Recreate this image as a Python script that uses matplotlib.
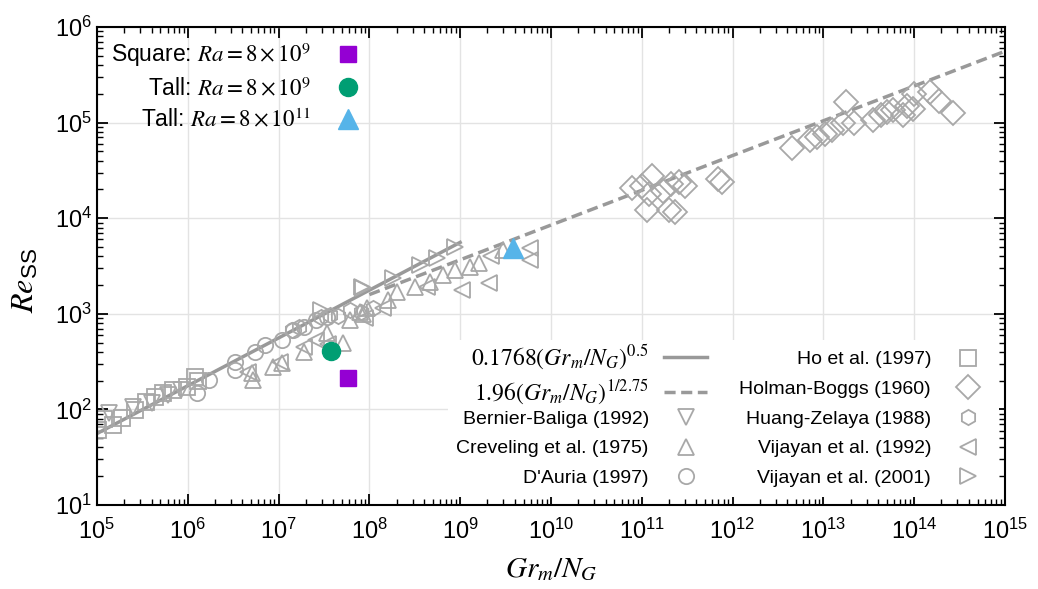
import numpy as np
import matplotlib
matplotlib.use("Agg")
import matplotlib.pyplot as plt
from matplotlib.patches import Rectangle
from matplotlib.ticker import LogLocator, FuncFormatter, NullFormatter

plt.rcParams['font.family'] = ['Liberation Sans', 'DejaVu Sans']
plt.rcParams['mathtext.fontset'] = 'custom'
plt.rcParams['mathtext.rm'] = 'STIXGeneral'
plt.rcParams['mathtext.it'] = 'STIXGeneral:italic'
plt.rcParams['mathtext.sf'] = 'Liberation Sans'
plt.rcParams['mathtext.fallback'] = 'stix'

# --- literature data ---
ho_x = [1.02e5, 1.2e5, 1.5e5, 1.9e5, 2.6e5, 3.5e5, 4.4e5, 5.4e5, 6.8e5, 9.8e5, 1.2e6, 1.3e6]
ho_y = [61, 80, 69, 81, 99, 120, 135, 148, 158, 170, 219, 200]

bernier_x = [1.35e5, 2.5e5, 4.0e5, 6.0e5, 8.5e5]
bernier_y = [92, 105, 118, 140, 160]

creveling_x = [5.2e6, 5.1e6, 8.7e6, 1.1e7, 1.9e7, 3.4e7, 5.1e7, 6.2e7, 7.9e7, 9.5e7,
               8.5e7, 1.6e8, 2.0e8, 3.2e8, 4.7e8, 6.5e8, 8.7e8, 1.3e9, 1.6e9, 3.0e9]
creveling_y = [204, 240, 276, 309, 398, 630, 500, 870, 1050, 1150,
               1000, 1380, 1700, 1900, 2140, 2570, 2880, 3100, 3400, 4680]

dauria_x = [1.25e6, 1.7e6, 3.3e6, 3.3e6, 5.5e6, 7.1e6, 1.1e7, 1.45e7, 1.9e7, 2.6e7, 3.4e7]
dauria_y = [150, 204, 313, 257, 398, 468, 537, 676, 724, 871, 933]

holman_x = [7.9e10, 1.0e11, 1.3e11, 1.2e11, 1.15e11, 2.0e11, 2.3e11, 2.1e11, 2.6e11,
            3.0e11, 1.7e11, 6.9e11, 7.6e11, 4.5e12, 7.1e12, 8.5e12, 1.05e13, 1.26e13,
            1.66e13, 1.8e13, 2.2e13, 3.5e13, 4.3e13, 5.0e13, 5.8e13, 7.5e13, 8.3e13,
            9.8e13, 1.0e14, 1.5e14, 1.9e14, 2.7e14]
holman_y = [2.07e4, 2.2e4, 2.8e4, 1.8e4, 1.23e4, 1.23e4, 1.15e4, 2.3e4, 2.4e4,
            2.2e4, 1.95e4, 2.6e4, 2.4e4, 5.4e4, 6.6e4, 7.0e4, 7.7e4, 8.3e4,
            1.0e5, 1.65e5, 1.0e5, 1.07e5, 1.2e5, 1.3e5, 1.35e5, 1.2e5, 1.5e5,
            1.4e5, 2.0e5, 2.1e5, 1.7e5, 1.26e5]

huang_x = [1.4e7, 1.7e7, 2.9e7, 3.7e7, 4.5e7, 6.2e7, 8.0e7, 1.1e8]
huang_y = [680, 720, 930, 980, 950, 1100, 1050, 1150]

vij92_x = [4.6e6, 1.05e7, 1.9e7, 2.6e7, 3.5e7, 9.0e7, 1.4e8, 4.3e8, 1.05e9, 2.1e9, 2.2e9, 5.9e9, 5.9e9]
vij92_y = [245, 316, 447, 537, 480, 900, 1150, 1900, 1780, 2090, 4000, 3630, 4900]

vij01_x = [2.9e7, 8.5e7, 8.3e7, 1.8e8, 3.6e8, 5.5e8, 8.7e8]
vij01_y = [1100, 1860, 1900, 2400, 3230, 3800, 5000]

# --- present simulations ---
sq_x, sq_y = [5.8e7], [212]
tall9_x, tall9_y = [3.8e7], [410]
tall11_x, tall11_y = [3.8e9], [4900]

# --- correlations ---
lam_x = np.logspace(5, 9, 100)
lam_y = 0.1768 * lam_x ** 0.5
turb_x = np.logspace(8, 15, 100)
turb_y = 1.96 * turb_x ** (1 / 2.75)

fig = plt.figure(figsize=(10.38, 5.89), dpi=100)
ax = fig.add_axes([0.0934, 0.1426, 0.8747, 0.8114])

gray = '#a8a8a8'
mk = dict(ls='none', mfc='none', mec=gray, mew=1.3, ms=11)

l1, = ax.plot(lam_x, lam_y, color='#999999', lw=2.5)
l2, = ax.plot(turb_x, turb_y, color='#999999', lw=2.5, ls=(0, (3.2, 1.6)))
h_bb, = ax.plot(bernier_x, bernier_y, marker='v', **mk)
h_cr, = ax.plot(creveling_x, creveling_y, marker='^', **mk)
h_da, = ax.plot(dauria_x, dauria_y, marker='o', **mk)
h_ho, = ax.plot(ho_x, ho_y, marker='s', **mk)
h_hb, = ax.plot(holman_x, holman_y, marker='D', **dict(mk, ms=12))
h_hz, = ax.plot(huang_x, huang_y, marker='h', **mk)
h_v92, = ax.plot(vij92_x, vij92_y, marker='<', **mk)
h_v01, = ax.plot(vij01_x, vij01_y, marker='>', **mk)

s1, = ax.plot(sq_x, sq_y, 's', color='#9400D3', ms=11, zorder=5)
s2, = ax.plot(tall9_x, tall9_y, 'o', color='#009E73', ms=13, zorder=5)
s3, = ax.plot(tall11_x, tall11_y, '^', color='#56B4E9', ms=14, zorder=5)

ax.set_xscale('log')
ax.set_yscale('log')
ax.set_xlim(1e5, 1e15)
ax.set_ylim(1e1, 1e6)

ax.xaxis.set_major_locator(LogLocator(base=10, numticks=20))
ax.xaxis.set_minor_locator(LogLocator(base=10, subs=np.arange(2, 10), numticks=20))
ax.yaxis.set_major_locator(LogLocator(base=10, numticks=20))
ax.yaxis.set_minor_locator(LogLocator(base=10, subs=np.arange(2, 10), numticks=20))
fmt = FuncFormatter(lambda v, p: r'$\mathsf{10^{%d}}$' % round(np.log10(v)))
ax.xaxis.set_major_formatter(fmt)
ax.yaxis.set_major_formatter(fmt)
ax.xaxis.set_minor_formatter(NullFormatter())
ax.yaxis.set_minor_formatter(NullFormatter())

ax.tick_params(which='both', direction='in', top=True, right=True, labelsize=17)
ax.tick_params(which='major', length=8, width=1.3)
ax.tick_params(which='minor', length=4, width=1.0)
ax.tick_params(axis='x', pad=10)
for sp in ax.spines.values():
    sp.set_linewidth(1.5)
ax.grid(True, which='major', color='#e3e3e3', lw=1.0)
ax.set_axisbelow(True)

ax.set_xlabel(r'$Gr_m/N_G$', fontsize=21, labelpad=8)
ax.set_ylabel(r'$Re_{\mathsf{SS}}$', fontsize=23, labelpad=8)
ax.yaxis.set_label_coords(-0.062, 0.47)

# top-left legend: present simulations
leg1 = ax.legend([s1, s2, s3],
                 [r'Square: $Ra = 8\times10^{9}$', r'Tall: $Ra = 8\times10^{9}$',
                  r'Tall: $Ra = 8\times10^{11}$'],
                 loc='upper left', frameon=False, markerfirst=False, fontsize=16.5,
                 labelspacing=0.35, borderaxespad=0.2, handlelength=1.6,
                 handletextpad=0.85)
for t in leg1.get_texts():
    t.set_ha('right')
ax.add_artist(leg1)

# white box behind the lower-right legend block
ax.add_patch(Rectangle((0.387, 0.017), 0.607, 0.328, transform=ax.transAxes,
                       facecolor='white', edgecolor='none', zorder=4))

common = dict(frameon=False, markerfirst=False, borderpad=0, borderaxespad=0)

legA = ax.legend([l1, l2],
                 [r'$0.1768(Gr_m/N_G)^{0.5}$', r'$1.96(Gr_m/N_G)^{1/2.75}$'],
                 loc='lower right', bbox_to_anchor=(0.672, 0.205), fontsize=17,
                 labelspacing=0.25, handlelength=1.82, handletextpad=0.66, **common)
legA.set_zorder(6)
ax.add_artist(legA)

legB = ax.legend([h_bb, h_cr, h_da],
                 ['Bernier-Baliga (1992)', 'Creveling et al. (1975)', "D'Auria (1997)"],
                 loc='lower right', bbox_to_anchor=(0.672, 0.0377), fontsize=14,
                 labelspacing=0.62, handlelength=2.2, handletextpad=0.8, **common)
legB.set_zorder(6)
ax.add_artist(legB)

legC = ax.legend([h_ho, h_hb, h_hz, h_v92, h_v01],
                 ['Ho et al. (1997)', 'Holman-Boggs (1960)', 'Huang-Zelaya (1988)',
                  'Vijayan et al. (1992)', 'Vijayan et al. (2001)'],
                 loc='lower right', bbox_to_anchor=(0.983, 0.0377), fontsize=14,
                 labelspacing=0.62, handlelength=2.2, handletextpad=0.8, **common)
legC.set_zorder(6)

for lg in (legA, legB, legC):
    for t in lg.get_texts():
        t.set_ha('right')

fig.savefig('out.png', dpi=100)
